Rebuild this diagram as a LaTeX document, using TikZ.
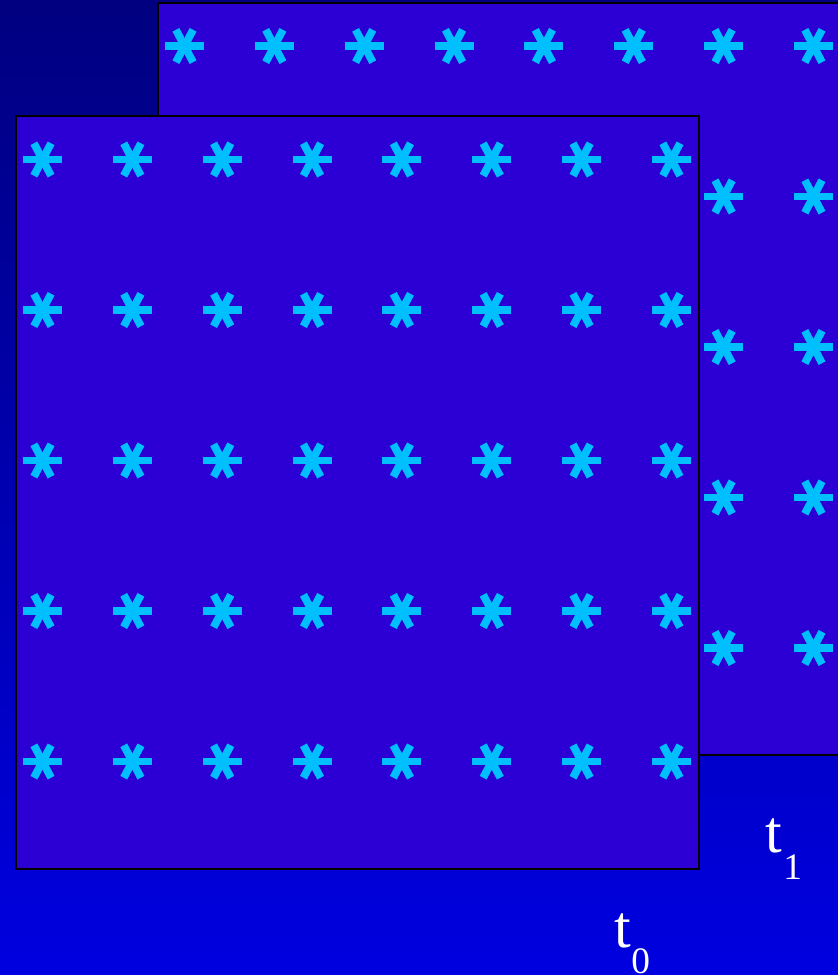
\documentclass[tikz,border=0pt]{standalone}
\usepackage{fontspec}
\setmainfont{Liberation Serif}
\definecolor{bgtop}{RGB}{0,0,128}
\definecolor{bgbot}{RGB}{0,0,224}
\definecolor{panelfill}{RGB}{44,0,212}
\definecolor{astcol}{RGB}{0,191,255}
\tikzset{
  panelbox/.style={fill=panelfill, draw=black, line width=0.9pt},
  astline/.style={draw=astcol, line width=5.8pt, line cap=butt},
  asteriskpic/.pic={
    \draw[astline] (-19.5,0) -- (19.5,0);
    \draw[astline] (-8.6,-16.2) -- (8.6,16.2);
    \draw[astline] (8.6,-16.2) -- (-8.6,16.2);
  },
  tbig/.style={text=white, inner sep=0pt, anchor=base west, font=\fontsize{45}{50}\selectfont},
  tsub/.style={text=white, inner sep=0pt, anchor=base west, font=\fontsize{28}{32}\selectfont}
}
\begin{document}
\begin{tikzpicture}[x=0.75pt,y=-0.75pt]
\useasboundingbox (0,0) rectangle (838,975);
\clip (0,0) rectangle (838,975);
\shade[top color=bgtop, bottom color=bgbot] (0,0) rectangle (838,975);
% back panel
\draw[panelbox] (158,3) rectangle (860,755);
\foreach \i in {0,...,7}{
  \foreach \j in {0,...,4}{
    \pic at ({184.5+89.85*\i},{46+150.5*\j}) {asteriskpic};
  }
}
% front panel
\draw[panelbox] (16,116) rectangle (699,869);
\foreach \i in {0,...,7}{
  \foreach \j in {0,...,4}{
    \pic at ({42.5+89.85*\i},{159.5+150.5*\j}) {asteriskpic};
  }
}
% labels
\node[tbig] (t1) at (765,852) {t};
\node[tsub] (t1s) at (783,879) {1};
\node[tbig] (t0) at (614,947) {t};
\node[tsub] (t0s) at (631,973) {0};
\end{tikzpicture}
\end{document}
